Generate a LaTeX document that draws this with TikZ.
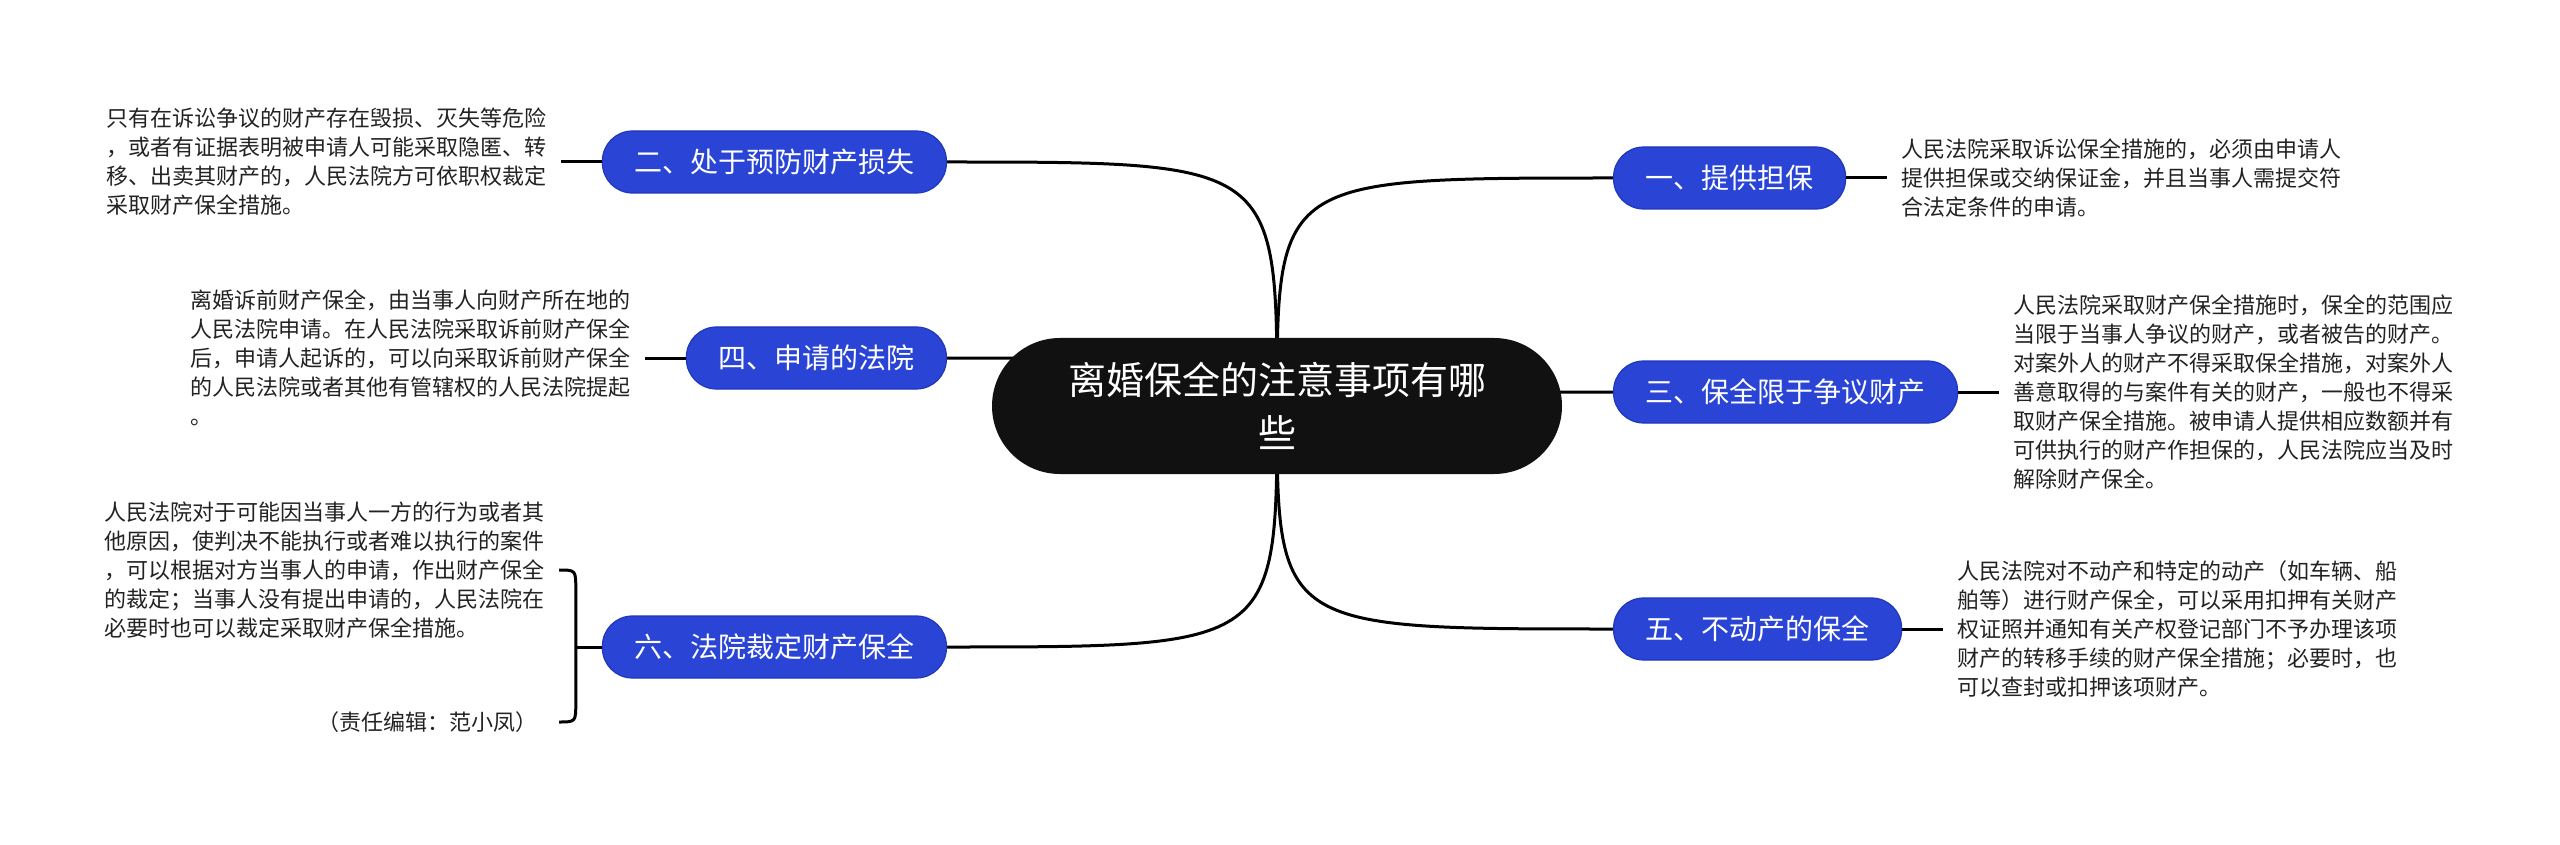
\documentclass[tikz,border=0pt]{standalone}
\usepackage{fontspec}
\setmainfont{Noto Sans CJK SC}
\usetikzlibrary{positioning, calc, backgrounds}
\definecolor{cblue}{HTML}{2A45D6}
\definecolor{cblueline}{HTML}{1F37B8}
\definecolor{cblack}{HTML}{111111}
\definecolor{ctext}{HTML}{222222}
\tikzset{
  every picture/.style={line width=1.5pt},
  root/.style={fill=cblack, text=white, rounded corners=34pt, minimum width=285pt, minimum height=68pt, align=center, font=\fontsize{19}{26.5}\selectfont},
  topic/.style={fill=cblue, draw=cblueline, line width=0.6pt, text=white, rounded corners=15pt, minimum height=31pt, inner xsep=16pt, font=\fontsize{14}{16}\selectfont},
  note/.style={text=ctext, align=left, inner sep=6.5pt, font=\fontsize{11}{14.5}\selectfont},
  link/.style={draw=black, line width=1.5pt},
}

\begin{document}
\begin{tikzpicture}[x=0.5pt, y=-0.5pt]
  \useasboundingbox (0,0) rectangle (2560,845);
  \node[root] (root) at (1277,406) {离婚保全的注意事项有哪\\些};
  % right branches
  \node[topic, anchor=west] (n1) at (1613,178) {一、提供担保};
  \node[topic, anchor=west] (n3) at (1613,392) {三、保全限于争议财产};
  \node[topic, anchor=west] (n5) at (1613,629) {五、不动产的保全};
  \node[note, right=20.5pt of n1] (t1) {人民法院采取诉讼保全措施的，必须由申请人\\提供担保或交纳保证金，并且当事人需提交符\\合法定条件的申请。};
  \node[note, right=20.5pt of n3] (t3) {人民法院采取财产保全措施时，保全的范围应\\当限于当事人争议的财产，或者被告的财产。\\对案外人的财产不得采取保全措施，对案外人\\善意取得的与案件有关的财产，一般也不得采\\取财产保全措施。被申请人提供相应数额并有\\可供执行的财产作担保的，人民法院应当及时\\解除财产保全。};
  \node[note, right=20.5pt of n5] (t5) {人民法院对不动产和特定的动产（如车辆、船\\舶等）进行财产保全，可以采用扣押有关财产\\权证照并通知有关产权登记部门不予办理该项\\财产的转移手续的财产保全措施；必要时，也\\可以查封或扣押该项财产。};
  % left branches
  \node[topic, anchor=east] (n2) at (947,162) {二、处于预防财产损失};
  \node[topic, anchor=east] (n4) at (947,358) {四、申请的法院};
  \node[topic, anchor=east] (n6) at (947,647) {六、法院裁定财产保全};
  \node[note, left=20.5pt of n2] (t2) {只有在诉讼争议的财产存在毁损、灭失等危险\\，或者有证据表明被申请人可能采取隐匿、转\\移、出卖其财产的，人民法院方可依职权裁定\\采取财产保全措施。};
  \node[note, left=20.5pt of n4] (t4) {离婚诉前财产保全，由当事人向财产所在地的\\人民法院申请。在人民法院采取诉前财产保全\\后，申请人起诉的，可以向采取诉前财产保全\\的人民法院或者其他有管辖权的人民法院提起\\。};
  \node[note, anchor=east] (t6) at (559,570) {人民法院对于可能因当事人一方的行为或者其\\他原因，使判决不能执行或者难以执行的案件\\，可以根据对方当事人的申请，作出财产保全\\的裁定；当事人没有提出申请的，人民法院在\\必要时也可以裁定采取财产保全措施。};
  \node[note, anchor=east, inner xsep=10pt] (e6) at (559,722) {（责任编辑：范小凤）};
  \coordinate (br) at ($(n6.west)+(-26,0)$);
  \begin{scope}[on background layer]
    \foreach \c/\a in {n1/west, n3/west, n5/west, n2/east, n4/east, n6/east}
      \draw[link] (root.center) .. controls (root.center |- \c.\a) .. (\c.\a);
  \end{scope}
  \foreach \c/\t in {n1/t1, n3/t3, n5/t5}
    \draw[link] (\c.east) -- (\t.west);
  \foreach \c/\t in {n2/t2, n4/t4}
    \draw[link] (\c.west) -- (\t.east);
  % brace for the last branch
  \draw[link] (t6.east) .. controls (t6.east -| br) .. ($(t6.east -| br)+(0,20)$)
    -- ($(e6.east -| br)+(0,-20)$) .. controls (e6.east -| br) .. (e6.east);
  \draw[link] (br) -- (n6.west);
\end{tikzpicture}
\end{document}
